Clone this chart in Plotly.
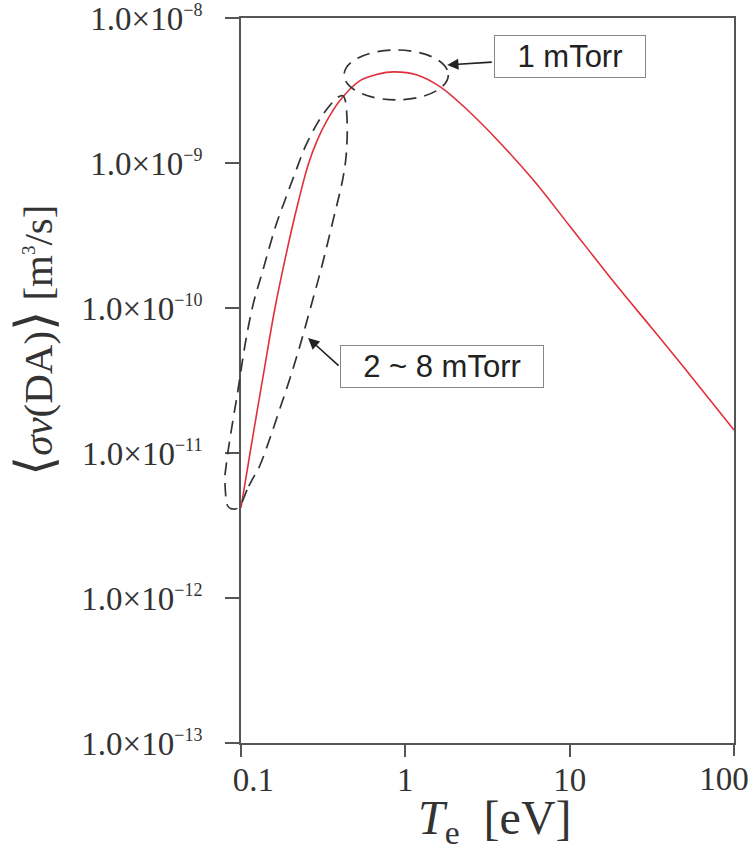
import numpy as np
import plotly.graph_objects as go

# Dissociative attachment rate coefficient vs electron temperature
te_ev = [0.100, 0.1135, 0.137, 0.161, 0.200, 0.225, 0.256, 0.290, 0.330, 0.400, 0.530, 0.680,
         0.850, 1.18, 1.64, 2.39, 3.79, 6.03, 10.0, 19.6, 31.2, 49.5, 100.0]
rate_m3s = [4.2e-12, 1.0e-11, 3.5e-11, 1.0e-10, 3.2e-10, 5.6e-10, 0.97e-9, 1.42e-9, 1.92e-9, 2.70e-9, 3.7e-9, 4.1e-9,
            4.25e-9, 4.05e-9, 3.34e-9, 2.32e-9, 1.37e-9, 7.6e-10, 3.68e-10, 1.40e-10, 7.4e-11, 3.9e-11, 1.44e-11]

x_tick_vals = [0.1, 1, 10]
x_tick_text = ["\u00a0\u00a0\u00a00.1", "1", "10"]
x_end_tick_vals = [100]
x_end_tick_text = ["100"]
y_tick_vals = [1e-13, 1e-12, 1e-11, 1e-10, 1e-9, 1e-8]
y_tick_exps = ["−13", "−12", "−11", "−10", "−9", "−8"]

# Outline of the 2 ~ 8 mTorr spread (Te [eV], rate [m^3/s])
band_te = [0.1088, 0.0986, 0.0894, 0.0821, 0.0798, 0.0810, 0.0845, 0.0894, 0.0959, 0.1058,
           0.1183, 0.1361, 0.1611, 0.1854, 0.2134, 0.2456, 0.2947, 0.3489, 0.4016, 0.4305,
           0.4429, 0.4367, 0.4128, 0.3639, 0.3118, 0.2709, 0.2291, 0.1989, 0.1729, 0.1502,
           0.1306, 0.1167]
band_rate = [5.56e-12, 4.31e-12, 4.11e-12, 4.45e-12, 6.52e-12, 8.0e-12, 1.135e-11, 1.69e-11, 2.72e-11, 5.56e-11,
             1.05e-10, 1.83e-10, 3.56e-10, 5.56e-10, 8.53e-10, 1.29e-9, 1.92e-9, 2.51e-9, 2.90e-9, 2.72e-9,
             1.83e-9, 1.135e-9, 7.40e-10, 4.05e-10, 1.98e-10, 1.10e-10, 5.56e-11, 3.29e-11, 2.04e-11, 1.27e-11,
             8.26e-12, 6.52e-12]

# Ellipse marking the 1 mTorr peak: centre and half-spans in decades
peak_te, peak_rate = 0.88, 4.05e-9
peak_half_dec_x, peak_half_dec_y = 0.317, 0.172

X_RANGE = (0.1, 100)
Y_RANGE = (1e-13, 1e-8)

serif = "Liberation Serif, Times New Roman, serif"
sans = "Liberation Sans, Arial, sans-serif"
axis_col = "#555555"
text_col = "#333333"
dash_style = dict(color="#333333", width=1.7, dash="13px,8px")


def to_paper(te, rate):
    lx0, lx1 = np.log10(X_RANGE)
    ly0, ly1 = np.log10(Y_RANGE)
    px = (np.log10(te) - lx0) / (lx1 - lx0)
    py = (np.log10(rate) - ly0) / (ly1 - ly0)
    return px, py


def closed_smooth_path(xs, ys):
    """Closed Catmull-Rom curve through the points, as an SVG path."""
    n = len(xs)
    pts = list(zip(xs, ys))
    d = f"M {pts[0][0]:.5f},{pts[0][1]:.5f}"
    for i in range(n):
        p0 = pts[(i - 1) % n]
        p1 = pts[i]
        p2 = pts[(i + 1) % n]
        p3 = pts[(i + 2) % n]
        c1 = (p1[0] + (p2[0] - p0[0]) / 6, p1[1] + (p2[1] - p0[1]) / 6)
        c2 = (p2[0] - (p3[0] - p1[0]) / 6, p2[1] - (p3[1] - p1[1]) / 6)
        d += (f" C {c1[0]:.5f},{c1[1]:.5f} {c2[0]:.5f},{c2[1]:.5f} "
              f"{p2[0]:.5f},{p2[1]:.5f}")
    return d + " Z"


y_tick_text = [f"1.0×10<sup><span style='font-size:18px'>{e}</span></sup>" for e in y_tick_exps]

fig = go.Figure()
fig.add_trace(go.Scatter(
    x=te_ev, y=rate_m3s, mode="lines",
    line=dict(color="#e0303c", width=1.6, shape="spline", smoothing=1.0),
    showlegend=False, hoverinfo="skip",
))
# empty trace so the overlaid x-axis carrying the last decade label is drawn
fig.add_trace(go.Scatter(x=[], y=[], xaxis="x2", yaxis="y", mode="lines",
                         showlegend=False, hoverinfo="skip"))

# dashed outline of the pressure spread
bx, by = to_paper(np.array(band_te), np.array(band_rate))
fig.add_shape(type="path", path=closed_smooth_path(bx, by), xref="paper", yref="paper",
              line=dash_style)

# dashed ellipse around the peak
cx, cy = to_paper(peak_te, peak_rate)
hx = peak_half_dec_x / 3.0
hy = peak_half_dec_y / 5.0
fig.add_shape(type="circle", xref="paper", yref="paper",
              x0=cx - hx, x1=cx + hx, y0=cy - hy, y1=cy + hy, line=dash_style)

# label boxes
fig.add_annotation(x=np.log10(10.0), y=-8.2655, xref="x", yref="y",
                   text="1 mTorr", showarrow=False,
                   font=dict(family=sans, size=31, color="#222222"),
                   width=150, height=41, bordercolor="#888888", borderwidth=1,
                   borderpad=0, bgcolor="white")
fig.add_annotation(x=np.log10(1.66), y=-10.403, xref="x", yref="y",
                   text="2 ~ 8 mTorr", showarrow=False,
                   font=dict(family=sans, size=31, color="#222222"),
                   width=202, height=41, bordercolor="#888888", borderwidth=1,
                   borderpad=0, bgcolor="white")

# arrows from the boxes to the dashed outlines
fig.add_annotation(x=np.log10(1.80), y=-8.324, xref="x", yref="y", text="",
                   showarrow=True, ax=46, ay=-3, arrowhead=2, arrowsize=1.4,
                   arrowwidth=1.6, arrowcolor="#222222")
fig.add_annotation(x=np.log10(0.256), y=-10.207, xref="x", yref="y", text="",
                   showarrow=True, ax=32, ay=29, arrowhead=2, arrowsize=1.4,
                   arrowwidth=1.6, arrowcolor="#222222")

# axis titles
fig.add_annotation(
    x=-0.418, y=0.556, xref="paper", yref="paper", showarrow=False, textangle=-90,
    xanchor="center", yanchor="middle",
    text="<span style='font-size:52px'>⟨</span><i>σv</i>(DA)<span style='font-size:52px'>⟩</span>"
         " [m<sup><span style='font-size:19px'>3</span></sup>/s]",
    font=dict(family=serif, size=41, color=text_col),
)
fig.add_annotation(
    x=0.515, y=-0.064, xref="paper", yref="paper", showarrow=False,
    xanchor="center", yanchor="top",
    text="<i>T</i><sub>e</sub>  [eV]",
    font=dict(family=serif, size=48, color=text_col),
)

tick_common = dict(
    type="log", range=[np.log10(X_RANGE[0]), np.log10(X_RANGE[1])],
    ticks="outside", ticklen=12, tickwidth=2, tickcolor=axis_col,
    showgrid=False, zeroline=False, ticklabeloverflow="allow",
    ticklabelstandoff=-6,
    tickfont=dict(family=serif, size=33, color=text_col),
)

fig.update_layout(
    xaxis=dict(
        **tick_common,
        tickvals=x_tick_vals, ticktext=x_tick_text,
        showline=True, linecolor=axis_col, linewidth=2, mirror=True,
    ),
    # last decade label, nudged inward so it stays on the page
    xaxis2=dict(
        **tick_common,
        tickvals=x_end_tick_vals, ticktext=x_end_tick_text,
        ticklabelshift=-10,
        overlaying="x", anchor="y", side="bottom", showline=False,
    ),
    yaxis=dict(
        type="log", range=[np.log10(Y_RANGE[0]), np.log10(Y_RANGE[1])],
        tickvals=y_tick_vals, ticktext=y_tick_text,
        ticks="outside", ticklen=14, tickwidth=2, tickcolor=axis_col,
        showline=True, linecolor=axis_col, linewidth=2, mirror=True,
        showgrid=False, zeroline=False, ticklabeloverflow="allow",
        ticklabelstandoff=16,
        tickfont=dict(family=serif, size=33, color=text_col),
    ),
    width=755, height=850,
    margin=dict(l=241, r=21, t=18, b=107, autoexpand=False),
    plot_bgcolor="white", paper_bgcolor="white",
    showlegend=False,
)

fig.write_html("out.html")
